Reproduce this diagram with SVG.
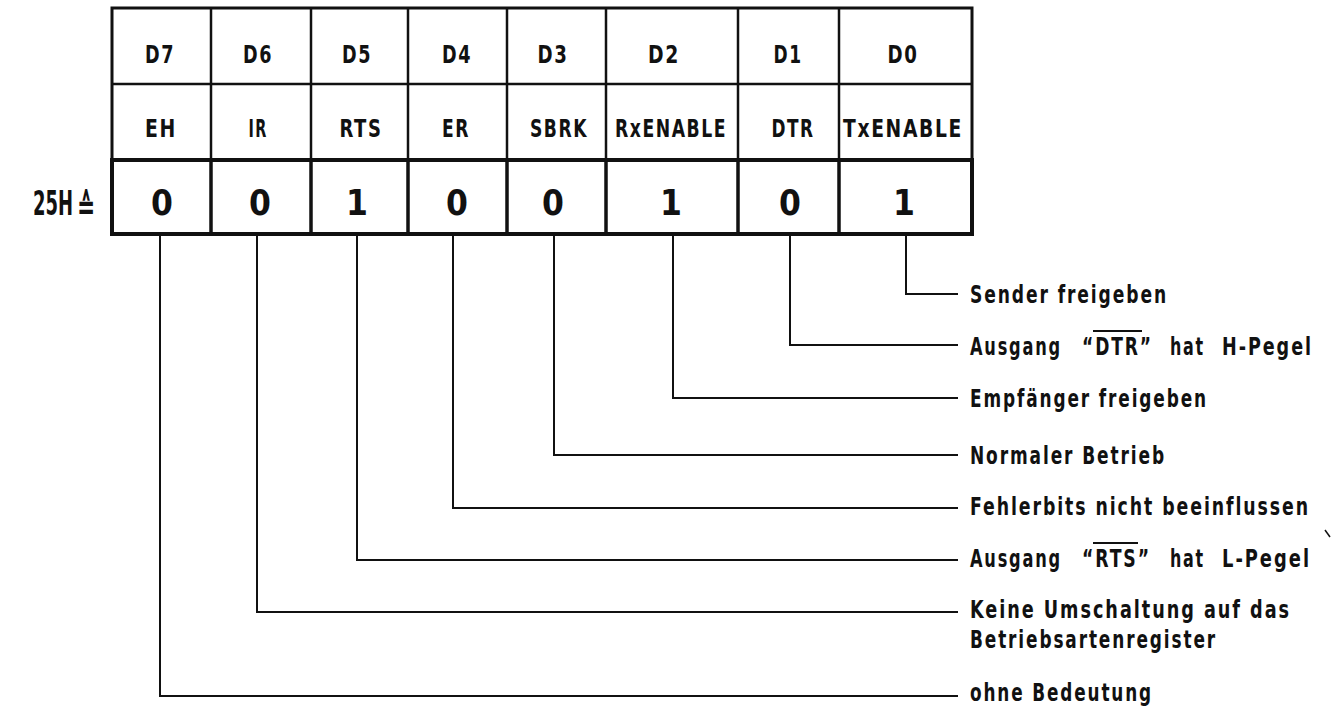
<svg xmlns="http://www.w3.org/2000/svg" width="1331" height="706" viewBox="0 0 1331 706">
<style>
  .t { font-family: "DejaVu Sans Condensed", "DejaVu Sans", sans-serif; font-weight: bold; fill: #111; }
  .hd { font-size: 25px; text-anchor: middle; letter-spacing: 2px; }
  .val { font-size: 35px; text-anchor: middle; }
  .lbl { font-size: 25px; letter-spacing: 2.5px; }
  .frame { fill: none; stroke: #111; stroke-width: 3; }
  .thin { stroke: #111; stroke-width: 2.5; fill: none; }
  .thick { fill: none; stroke: #111; stroke-width: 4; }
  .thickv { stroke: #111; stroke-width: 3.5; }
  .conn { fill: none; stroke: #111; stroke-width: 2; }
</style>
<rect width="1331" height="706" fill="#fff"/>
<g id="register">
  <rect class="frame" x="112" y="8" width="860" height="152"/>
  <line class="thin" x1="112" y1="84" x2="972" y2="84"/>
  <g class="thin">
    <line x1="211" y1="8" x2="211" y2="160"/>
    <line x1="311" y1="8" x2="311" y2="160"/>
    <line x1="408" y1="8" x2="408" y2="160"/>
    <line x1="507" y1="8" x2="507" y2="160"/>
    <line x1="606" y1="8" x2="606" y2="160"/>
    <line x1="738" y1="8" x2="738" y2="160"/>
    <line x1="839" y1="8" x2="839" y2="160"/>
  </g>
  <rect class="thick" x="112" y="160" width="860" height="74"/>
  <g class="thickv">
    <line x1="211" y1="160" x2="211" y2="234"/>
    <line x1="311" y1="160" x2="311" y2="234"/>
    <line x1="408" y1="160" x2="408" y2="234"/>
    <line x1="507" y1="160" x2="507" y2="234"/>
    <line x1="606" y1="160" x2="606" y2="234"/>
    <line x1="738" y1="160" x2="738" y2="234"/>
    <line x1="839" y1="160" x2="839" y2="234"/>
  </g>
  <text class="t" x="33" y="215" font-size="34"><tspan textLength="40" lengthAdjust="spacingAndGlyphs">25H</tspan><tspan x="77" y="219" font-size="36" textLength="18" lengthAdjust="spacingAndGlyphs">≙</tspan></text>
</g>
<g id="bit-d7">
  <text class="t hd" x="160" y="63" textLength="30" lengthAdjust="spacingAndGlyphs">D7</text>
  <text class="t hd" x="161" y="137" textLength="32" lengthAdjust="spacingAndGlyphs">EH</text>
  <text class="t val" x="162" y="215">0</text>
</g>
<g id="bit-d6">
  <text class="t hd" x="258" y="63" textLength="30" lengthAdjust="spacingAndGlyphs">D6</text>
  <text class="t hd" x="258" y="137" textLength="19" lengthAdjust="spacingAndGlyphs">IR</text>
  <text class="t val" x="260" y="215">0</text>
</g>
<g id="bit-d5">
  <text class="t hd" x="357" y="63" textLength="30" lengthAdjust="spacingAndGlyphs">D5</text>
  <text class="t hd" x="361" y="137" textLength="43" lengthAdjust="spacingAndGlyphs">RTS</text>
  <text class="t val" x="357" y="215">1</text>
</g>
<g id="bit-d4">
  <text class="t hd" x="457" y="63" textLength="30" lengthAdjust="spacingAndGlyphs">D4</text>
  <text class="t hd" x="456" y="137" textLength="28" lengthAdjust="spacingAndGlyphs">ER</text>
  <text class="t val" x="457" y="215">0</text>
</g>
<g id="bit-d3">
  <text class="t hd" x="553" y="63" textLength="31" lengthAdjust="spacingAndGlyphs">D3</text>
  <text class="t hd" x="559" y="137" textLength="58" lengthAdjust="spacingAndGlyphs">SBRK</text>
  <text class="t val" x="553" y="215">0</text>
</g>
<g id="bit-d2">
  <text class="t hd" x="664" y="63" textLength="32" lengthAdjust="spacingAndGlyphs">D2</text>
  <text class="t hd" x="671" y="137" textLength="112" lengthAdjust="spacingAndGlyphs">RxENABLE</text>
  <text class="t val" x="671" y="215">1</text>
</g>
<g id="bit-d1">
  <text class="t hd" x="788" y="63" textLength="29" lengthAdjust="spacingAndGlyphs">D1</text>
  <text class="t hd" x="793" y="137" textLength="43" lengthAdjust="spacingAndGlyphs">DTR</text>
  <text class="t val" x="790" y="215">0</text>
</g>
<g id="bit-d0">
  <text class="t hd" x="903" y="63" textLength="31" lengthAdjust="spacingAndGlyphs">D0</text>
  <text class="t hd" x="903" y="137" textLength="120" lengthAdjust="spacingAndGlyphs">TxENABLE</text>
  <text class="t val" x="904" y="215">1</text>
</g>
<g id="connectors" class="conn">
  <polyline points="906,236 906,294 958,294"/>
  <polyline points="790,236 790,345 958,345"/>
  <polyline points="673,236 673,398 958,398"/>
  <polyline points="554,236 554,455 958,455"/>
  <polyline points="453,236 453,508 958,508"/>
  <polyline points="357,236 357,560 958,560"/>
  <polyline points="257,236 257,612 958,612"/>
  <polyline points="160,236 160,696 958,696"/>
</g>
<g id="labels">
  <text class="t lbl" x="970" y="303" textLength="198" lengthAdjust="spacingAndGlyphs">Sender freigeben</text>
  <text class="t lbl" y="355"><tspan x="970" textLength="92" lengthAdjust="spacingAndGlyphs">Ausgang</tspan> <tspan x="1082" textLength="71" lengthAdjust="spacingAndGlyphs">“DTR”</tspan> <tspan x="1170" textLength="35" lengthAdjust="spacingAndGlyphs">hat</tspan> <tspan x="1222" textLength="91" lengthAdjust="spacingAndGlyphs">H-Pegel</tspan></text>
  <line class="conn" x1="1093" y1="331" x2="1142" y2="331"/>
  <text class="t lbl" x="970" y="407" textLength="238" lengthAdjust="spacingAndGlyphs">Empfänger freigeben</text>
  <text class="t lbl" x="970" y="464" textLength="196" lengthAdjust="spacingAndGlyphs">Normaler Betrieb</text>
  <text class="t lbl" x="970" y="515" textLength="340" lengthAdjust="spacingAndGlyphs">Fehlerbits nicht beeinflussen</text>
  <text class="t lbl" y="567"><tspan x="970" textLength="92" lengthAdjust="spacingAndGlyphs">Ausgang</tspan> <tspan x="1082" textLength="69" lengthAdjust="spacingAndGlyphs">“RTS”</tspan> <tspan x="1170" textLength="35" lengthAdjust="spacingAndGlyphs">hat</tspan> <tspan x="1222" textLength="89" lengthAdjust="spacingAndGlyphs">L-Pegel</tspan></text>
  <line class="conn" x1="1093" y1="543" x2="1138" y2="543"/>
  <text class="t lbl" x="970" y="618" textLength="321" lengthAdjust="spacingAndGlyphs">Keine Umschaltung auf das</text>
  <text class="t lbl" x="970" y="648" textLength="247" lengthAdjust="spacingAndGlyphs">Betriebsartenregister</text>
  <text class="t lbl" x="970" y="701" textLength="183" lengthAdjust="spacingAndGlyphs">ohne Bedeutung</text>
</g>
<line x1="1325" y1="530" x2="1330" y2="537" stroke="#111" stroke-width="1.5"/>
</svg>
